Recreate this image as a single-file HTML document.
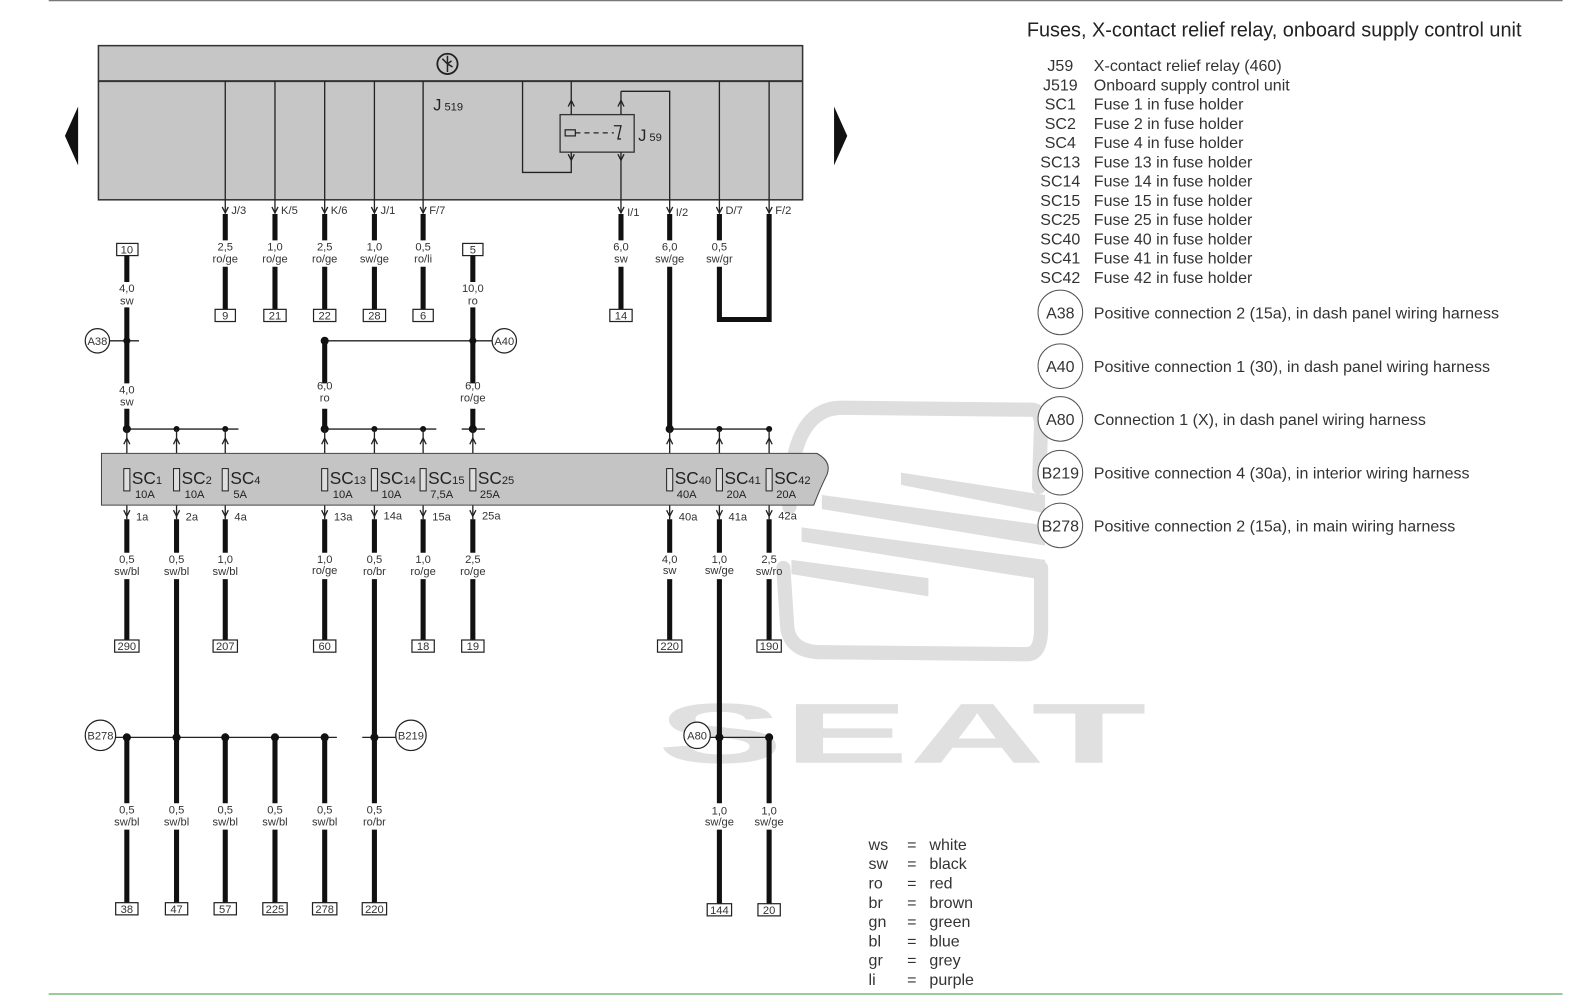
<!DOCTYPE html>
<html><head><meta charset="utf-8"><style>
html,body{margin:0;padding:0;background:#fff;}
svg{display:block;}
.t{stroke:#222;stroke-width:1.3;fill:none}
.w{stroke:#111;stroke-width:5;fill:none}
.s{font:11px "Liberation Sans",sans-serif;fill:#333}
.c{font:11px "Liberation Sans",sans-serif;fill:#333;text-anchor:middle}
.b{fill:#fff;stroke:#222;stroke-width:1.2}
.L{font:15.8px "Liberation Sans",sans-serif;fill:#333}
.Lc{font:15.8px "Liberation Sans",sans-serif;fill:#333;text-anchor:middle}
.sc{font:17px "Liberation Sans",sans-serif;fill:#222}
.sub{font-size:11px}
.amp{font:11px "Liberation Sans",sans-serif;fill:#222}
</style></head><body>
<svg width="1591" height="996" viewBox="0 0 1568 982" preserveAspectRatio="none" xmlns="http://www.w3.org/2000/svg">
<g fill="none" stroke="#dedede" stroke-width="14" stroke-linecap="round">
<path d="M778,500 Q778,402 830,402 L1018,404 Q1026,405 1026,420 L1024,480"/>
<path d="M772,560 L776,620 Q780,643 810,643 L1012,645 Q1026,645 1026,620 L1026,560"/>
</g>
<g fill="#dedede">
<polygon points="888,466 1030,488 1030,506 888,478"/>
<polygon points="810,488 1030,518 1030,538 810,502"/>
<polygon points="790,520 1030,552 1030,572 790,534"/>
<polygon points="780,552 915,570 915,588 780,566"/>
</g>
<text x="648" y="752" font-family="Liberation Sans" font-weight="bold" font-size="84" fill="#e0e0e0" textLength="482" lengthAdjust="spacingAndGlyphs">SEAT</text>

<line x1="48" y1="0.5" x2="1540" y2="0.5" stroke="#777" stroke-width="1.5"/>
<line x1="48" y1="980" x2="1540" y2="980" stroke="#9c9" stroke-width="2"/>

<rect x="97" y="45" width="694" height="152" fill="#c6c6c6" stroke="#333" stroke-width="1.5"/>
<line x1="97" y1="80" x2="791" y2="80" stroke="#333" stroke-width="2"/>
<circle cx="441" cy="63" r="10" fill="none" stroke="#222" stroke-width="1.8"/>
<path d="M441,55 L441,71 M436,58 L441,63 L446,66 M441,63 L445,60" stroke="#222" stroke-width="1.5" fill="none"/>
<text x="427" y="109" font-family="Liberation Sans" font-size="16" fill="#222">J<tspan font-size="11"> 519</tspan></text>
<polygon points="77,105 64,134 77,163" fill="#111"/>
<polygon points="822,105 835,134 822,163" fill="#111"/>

<rect x="552" y="113" width="73" height="37" fill="none" stroke="#333" stroke-width="1.3"/>
<path class="t" d="M515,80 L515,170 L563,170 L563,150"/>
<path class="t" d="M563,80 L563,113"/>
<path class="t" d="M560,105 L563,99 L566,105 M560,152 L563,158 L566,152"/>
<rect x="557" y="128" width="10" height="6" fill="none" stroke="#222" stroke-width="1.2"/>
<line x1="567" y1="131" x2="605" y2="131" stroke="#222" stroke-width="1.2" stroke-dasharray="5,4"/>
<path class="t" d="M605,124 L612,124 L609,137 L612,137"/>
<path class="t" d="M612,90 L660,90 L660,197"/>
<path class="t" d="M612,90 L612,113 M612,150 L612,197"/>
<path class="t" d="M609,105 L612,99 L615,105 M609,152 L612,158 L615,152"/>
<text x="629" y="139" font-family="Liberation Sans" font-size="16" fill="#222">J<tspan font-size="11"> 59</tspan></text>

<g>
<line class="t" x1="222" y1="80" x2="222" y2="210"/><line class="t" x1="271" y1="80" x2="271" y2="210"/><line class="t" x1="320" y1="80" x2="320" y2="210"/><line class="t" x1="369" y1="80" x2="369" y2="210"/><line class="t" x1="417" y1="80" x2="417" y2="210"/>
<line class="t" x1="612" y1="197" x2="612" y2="210"/><line class="t" x1="660" y1="197" x2="660" y2="210"/><line class="t" x1="709" y1="80" x2="709" y2="210"/><line class="t" x1="758" y1="80" x2="758" y2="210"/>
<path class="t" d="M219,204 L222,210 L225,204 M268,204 L271,210 L274,204 M317,204 L320,210 L323,204 M366,204 L369,210 L372,204 M414,204 L417,210 L420,204 M609,204 L612,210 L615,204 M657,204 L660,210 L663,204 M706,204 L709,210 L712,204 M755,204 L758,210 L761,204"/>
<text class="s" x="228" y="211">J/3</text><text class="s" x="277" y="211">K/5</text><text class="s" x="326" y="211">K/6</text><text class="s" x="375" y="211">J/1</text><text class="s" x="423" y="211">F/7</text>
<text class="s" x="618" y="213">I/1</text><text class="s" x="666" y="213">I/2</text><text class="s" x="715" y="211">D/7</text><text class="s" x="764" y="211">F/2</text>
<path class="w" d="M222,211 V237 M222,263 V305 M271,211 V237 M271,263 V305 M320,211 V237 M320,263 V305 M369,211 V237 M369,263 V305 M417,211 V237 M417,263 V305 M612,211 V237 M612,263 V305 M660,211 V237 M660,263 V425 M709,211 V237 M709,263 V315 H758 V211"/>
<text class="c" x="222" y="247">2,5</text><text class="c" x="222" y="259">ro/ge</text>
<text class="c" x="271" y="247">1,0</text><text class="c" x="271" y="259">ro/ge</text>
<text class="c" x="320" y="247">2,5</text><text class="c" x="320" y="259">ro/ge</text>
<text class="c" x="369" y="247">1,0</text><text class="c" x="369" y="259">sw/ge</text>
<text class="c" x="417" y="247">0,5</text><text class="c" x="417" y="259">ro/li</text>
<text class="c" x="612" y="247">6,0</text><text class="c" x="612" y="259">sw</text>
<text class="c" x="660" y="247">6,0</text><text class="c" x="660" y="259">sw/ge</text>
<text class="c" x="709" y="247">0,5</text><text class="c" x="709" y="259">sw/gr</text>
<rect class="b" x="212" y="305" width="20" height="12"/><text class="c" x="222" y="315">9</text>
<rect class="b" x="260" y="305" width="22" height="12"/><text class="c" x="271" y="315">21</text>
<rect class="b" x="309" y="305" width="22" height="12"/><text class="c" x="320" y="315">22</text>
<rect class="b" x="358" y="305" width="22" height="12"/><text class="c" x="369" y="315">28</text>
<rect class="b" x="407" y="305" width="20" height="12"/><text class="c" x="417" y="315">6</text>
<rect class="b" x="601" y="305" width="22" height="12"/><text class="c" x="612" y="315">14</text>
</g>

<rect class="b" x="115" y="240" width="21" height="12"/><text class="c" x="125" y="250">10</text>
<rect class="b" x="456" y="240" width="20" height="12"/><text class="c" x="466" y="250">5</text>
<path class="w" d="M125,252 V278 M125,303 V378 M125,403 V424 M466,252 V278 M466,303 V378 M466,403 V424 M320,336 V378 M320,403 V424"/>
<text class="c" x="125" y="288">4,0</text><text class="c" x="125" y="300">sw</text>
<text class="c" x="125" y="388">4,0</text><text class="c" x="125" y="400">sw</text>
<text class="c" x="466" y="288">10,0</text><text class="c" x="466" y="300">ro</text>
<text class="c" x="320" y="384">6,0</text><text class="c" x="320" y="396">ro</text>
<text class="c" x="466" y="384">6,0</text><text class="c" x="466" y="396">ro/ge</text>
<circle cx="96" cy="336" r="12" fill="#fff" stroke="#222" stroke-width="1.2"/><text class="c" x="96" y="340">A38</text>
<line class="t" x1="108" y1="336" x2="137" y2="336"/>
<circle cx="497" cy="336" r="12" fill="#fff" stroke="#222" stroke-width="1.2"/><text class="c" x="497" y="340">A40</text>
<line class="t" x1="320" y1="336" x2="485" y2="336"/>
<g fill="#111"><circle cx="125" cy="336" r="3.5"/><circle cx="320" cy="336" r="4"/><circle cx="466" cy="336" r="3.5"/></g>

<path class="t" d="M125,423 H235 M320,423 H430 M455,423 H478 M660,423 H760"/>
<g fill="#111"><circle cx="125" cy="423" r="4"/><circle cx="174" cy="423" r="3"/><circle cx="222" cy="423" r="3"/><circle cx="320" cy="423" r="4"/><circle cx="369" cy="423" r="3"/><circle cx="417" cy="423" r="3"/><circle cx="466" cy="423" r="4"/><circle cx="660" cy="423" r="4"/><circle cx="709" cy="423" r="3"/><circle cx="758" cy="423" r="3"/></g>
<path class="t" d="M125,423 V512 M174,423 V512 M222,423 V512 M320,423 V512 M369,423 V512 M417,423 V512 M466,423 V512 M660,423 V512 M709,423 V512 M758,423 V512"/>

<path d="M100,447 L805,447 Q820,455 815,468 Q808,482 802,498 L100,498 Z" fill="#c4c4c4" stroke="#444" stroke-width="1"/>
<g class="t">
<path d="M122,438 L125,432 L128,438 M171,438 L174,432 L177,438 M219,438 L222,432 L225,438 M317,438 L320,432 L323,438 M366,438 L369,432 L372,438 M414,438 L417,432 L420,438 M463,438 L466,432 L469,438 M657,438 L660,432 L663,438 M706,438 L709,432 L712,438 M755,438 L758,432 L761,438"/>
<path d="M122,503 L125,509 L128,503 M171,503 L174,509 L177,503 M219,503 L222,509 L225,503 M317,503 L320,509 L323,503 M366,503 L369,509 L372,503 M414,503 L417,509 L420,503 M463,503 L466,509 L469,503 M657,503 L660,509 L663,503 M706,503 L709,509 L712,503 M755,503 L758,509 L761,503"/>
</g>
<g fill="#ddd" stroke="#222" stroke-width="1">
<rect x="122" y="462" width="6" height="22"/><rect x="171" y="462" width="6" height="22"/><rect x="219" y="462" width="6" height="22"/><rect x="317" y="462" width="6" height="22"/><rect x="366" y="462" width="6" height="22"/><rect x="414" y="462" width="6" height="22"/><rect x="463" y="462" width="6" height="22"/><rect x="657" y="462" width="6" height="22"/><rect x="706" y="462" width="6" height="22"/><rect x="755" y="462" width="6" height="22"/>
</g>
<text class="sc" x="130" y="477">SC<tspan class="sub">1</tspan></text><text class="amp" x="133" y="491">10A</text>
<text class="sc" x="179" y="477">SC<tspan class="sub">2</tspan></text><text class="amp" x="182" y="491">10A</text>
<text class="sc" x="227" y="477">SC<tspan class="sub">4</tspan></text><text class="amp" x="230" y="491">5A</text>
<text class="sc" x="325" y="477">SC<tspan class="sub">13</tspan></text><text class="amp" x="328" y="491">10A</text>
<text class="sc" x="374" y="477">SC<tspan class="sub">14</tspan></text><text class="amp" x="376" y="491">10A</text>
<text class="sc" x="422" y="477">SC<tspan class="sub">15</tspan></text><text class="amp" x="424" y="491">7,5A</text>
<text class="sc" x="471" y="477">SC<tspan class="sub">25</tspan></text><text class="amp" x="473" y="491">25A</text>
<text class="sc" x="665" y="477">SC<tspan class="sub">40</tspan></text><text class="amp" x="667" y="491">40A</text>
<text class="sc" x="714" y="477">SC<tspan class="sub">41</tspan></text><text class="amp" x="716" y="491">20A</text>
<text class="sc" x="763" y="477">SC<tspan class="sub">42</tspan></text><text class="amp" x="765" y="491">20A</text>

<text class="s" x="134" y="513">1a</text><text class="s" x="183" y="513">2a</text><text class="s" x="231" y="513">4a</text><text class="s" x="329" y="513">13a</text><text class="s" x="378" y="512">14a</text><text class="s" x="426" y="513">15a</text><text class="s" x="475" y="512">25a</text><text class="s" x="669" y="513">40a</text><text class="s" x="718" y="513">41a</text><text class="s" x="767" y="512">42a</text>
<path class="w" d="M125,512 V545 M125,571 V632 M174,512 V545 M174,571 V727 M222,512 V545 M222,571 V632 M320,512 V545 M320,571 V632 M369,512 V545 M369,571 V727 M417,512 V545 M417,571 V632 M466,512 V545 M466,571 V632 M660,512 V545 M660,571 V632 M709,512 V545 M709,571 V727 M758,512 V545 M758,571 V632"/>
<text class="c" x="125" y="555">0,5</text><text class="c" x="125" y="567">sw/bl</text>
<text class="c" x="174" y="555">0,5</text><text class="c" x="174" y="567">sw/bl</text>
<text class="c" x="222" y="555">1,0</text><text class="c" x="222" y="567">sw/bl</text>
<text class="c" x="320" y="555">1,0</text><text class="c" x="320" y="566">ro/ge</text>
<text class="c" x="369" y="555">0,5</text><text class="c" x="369" y="567">ro/br</text>
<text class="c" x="417" y="555">1,0</text><text class="c" x="417" y="567">ro/ge</text>
<text class="c" x="466" y="555">2,5</text><text class="c" x="466" y="567">ro/ge</text>
<text class="c" x="660" y="555">4,0</text><text class="c" x="660" y="566">sw</text>
<text class="c" x="709" y="555">1,0</text><text class="c" x="709" y="566">sw/ge</text>
<text class="c" x="758" y="555">2,5</text><text class="c" x="758" y="567">sw/ro</text>
<rect class="b" x="113" y="631" width="24" height="12"/><text class="c" x="125" y="641">290</text>
<rect class="b" x="210" y="631" width="24" height="12"/><text class="c" x="222" y="641">207</text>
<rect class="b" x="309" y="631" width="22" height="12"/><text class="c" x="320" y="641">60</text>
<rect class="b" x="406" y="631" width="22" height="12"/><text class="c" x="417" y="641">18</text>
<rect class="b" x="455" y="631" width="22" height="12"/><text class="c" x="466" y="641">19</text>
<rect class="b" x="648" y="631" width="24" height="12"/><text class="c" x="660" y="641">220</text>
<rect class="b" x="746" y="631" width="24" height="12"/><text class="c" x="758" y="641">190</text>

<circle cx="99" cy="725" r="15" fill="#fff" stroke="#222" stroke-width="1.2"/><text class="c" x="99" y="729">B278</text>
<circle cx="405" cy="725" r="15" fill="#fff" stroke="#222" stroke-width="1.2"/><text class="c" x="405" y="729">B219</text>
<circle cx="687" cy="725" r="13" fill="#fff" stroke="#222" stroke-width="1.2"/><text class="c" x="687" y="729">A80</text>
<path class="t" d="M114,727 H332 M357,727 H390 M700,727 H758"/>
<g fill="#111"><circle cx="125" cy="727" r="4"/><circle cx="174" cy="727" r="4"/><circle cx="222" cy="727" r="4"/><circle cx="271" cy="727" r="4"/><circle cx="320" cy="727" r="4"/><circle cx="369" cy="727" r="4"/><circle cx="709" cy="727" r="4"/><circle cx="758" cy="727" r="4"/></g>
<path class="w" d="M125,727 V792 M125,818 V890 M174,727 V792 M174,818 V890 M222,727 V792 M222,818 V890 M271,727 V792 M271,818 V890 M320,727 V792 M320,818 V890 M369,727 V792 M369,818 V890 M709,727 V792 M709,818 V891 M758,727 V792 M758,818 V891"/>
<text class="c" x="125" y="802">0,5</text><text class="c" x="125" y="814">sw/bl</text>
<text class="c" x="174" y="802">0,5</text><text class="c" x="174" y="814">sw/bl</text>
<text class="c" x="222" y="802">0,5</text><text class="c" x="222" y="814">sw/bl</text>
<text class="c" x="271" y="802">0,5</text><text class="c" x="271" y="814">sw/bl</text>
<text class="c" x="320" y="802">0,5</text><text class="c" x="320" y="814">sw/bl</text>
<text class="c" x="369" y="802">0,5</text><text class="c" x="369" y="814">ro/br</text>
<text class="c" x="709" y="803">1,0</text><text class="c" x="709" y="814">sw/ge</text>
<text class="c" x="758" y="803">1,0</text><text class="c" x="758" y="814">sw/ge</text>
<rect class="b" x="114" y="890" width="22" height="12"/><text class="c" x="125" y="900">38</text>
<rect class="b" x="163" y="890" width="22" height="12"/><text class="c" x="174" y="900">47</text>
<rect class="b" x="211" y="890" width="22" height="12"/><text class="c" x="222" y="900">57</text>
<rect class="b" x="259" y="890" width="24" height="12"/><text class="c" x="271" y="900">225</text>
<rect class="b" x="308" y="890" width="24" height="12"/><text class="c" x="320" y="900">278</text>
<rect class="b" x="357" y="890" width="24" height="12"/><text class="c" x="369" y="900">220</text>
<rect class="b" x="697" y="891" width="24" height="12"/><text class="c" x="709" y="901">144</text>
<rect class="b" x="747" y="891" width="22" height="12"/><text class="c" x="758" y="901">20</text>

<text x="1012" y="36" font-family="Liberation Sans" font-size="19.6" fill="#222">Fuses, X-contact relief relay, onboard supply control unit</text>
<g>
<text class="Lc" x="1045" y="70">J59</text><text class="L" x="1078" y="70">X-contact relief relay (460)</text>
<text class="Lc" x="1045" y="89">J519</text><text class="L" x="1078" y="89">Onboard supply control unit</text>
<text class="Lc" x="1045" y="108">SC1</text><text class="L" x="1078" y="108">Fuse 1 in fuse holder</text>
<text class="Lc" x="1045" y="127">SC2</text><text class="L" x="1078" y="127">Fuse 2 in fuse holder</text>
<text class="Lc" x="1045" y="146">SC4</text><text class="L" x="1078" y="146">Fuse 4 in fuse holder</text>
<text class="Lc" x="1045" y="165">SC13</text><text class="L" x="1078" y="165">Fuse 13 in fuse holder</text>
<text class="Lc" x="1045" y="184">SC14</text><text class="L" x="1078" y="184">Fuse 14 in fuse holder</text>
<text class="Lc" x="1045" y="203">SC15</text><text class="L" x="1078" y="203">Fuse 15 in fuse holder</text>
<text class="Lc" x="1045" y="222">SC25</text><text class="L" x="1078" y="222">Fuse 25 in fuse holder</text>
<text class="Lc" x="1045" y="241">SC40</text><text class="L" x="1078" y="241">Fuse 40 in fuse holder</text>
<text class="Lc" x="1045" y="260">SC41</text><text class="L" x="1078" y="260">Fuse 41 in fuse holder</text>
<text class="Lc" x="1045" y="279">SC42</text><text class="L" x="1078" y="279">Fuse 42 in fuse holder</text>
</g>
<g fill="#fff" stroke="#555" stroke-width="1">
<circle cx="1045" cy="308" r="22"/><circle cx="1045" cy="361" r="22"/><circle cx="1045" cy="413" r="22"/><circle cx="1045" cy="466" r="22"/><circle cx="1045" cy="518" r="22"/>
</g>
<text class="Lc" x="1045" y="314">A38</text><text class="L" x="1078" y="314">Positive connection 2 (15a), in dash panel wiring harness</text>
<text class="Lc" x="1045" y="367">A40</text><text class="L" x="1078" y="367">Positive connection 1 (30), in dash panel wiring harness</text>
<text class="Lc" x="1045" y="419">A80</text><text class="L" x="1078" y="419">Connection 1 (X), in dash panel wiring harness</text>
<text class="Lc" x="1045" y="472">B219</text><text class="L" x="1078" y="472">Positive connection 4 (30a), in interior wiring harness</text>
<text class="Lc" x="1045" y="524">B278</text><text class="L" x="1078" y="524">Positive connection 2 (15a), in main wiring harness</text>

<g>
<text class="L" x="856" y="838">ws</text><text class="L" x="894" y="838">=</text><text class="L" x="916" y="838">white</text>
<text class="L" x="856" y="857">sw</text><text class="L" x="894" y="857">=</text><text class="L" x="916" y="857">black</text>
<text class="L" x="856" y="876">ro</text><text class="L" x="894" y="876">=</text><text class="L" x="916" y="876">red</text>
<text class="L" x="856" y="895">br</text><text class="L" x="894" y="895">=</text><text class="L" x="916" y="895">brown</text>
<text class="L" x="856" y="914">gn</text><text class="L" x="894" y="914">=</text><text class="L" x="916" y="914">green</text>
<text class="L" x="856" y="933">bl</text><text class="L" x="894" y="933">=</text><text class="L" x="916" y="933">blue</text>
<text class="L" x="856" y="952">gr</text><text class="L" x="894" y="952">=</text><text class="L" x="916" y="952">grey</text>
<text class="L" x="856" y="971">li</text><text class="L" x="894" y="971">=</text><text class="L" x="916" y="971">purple</text>
</g>
</svg>
</body></html>
